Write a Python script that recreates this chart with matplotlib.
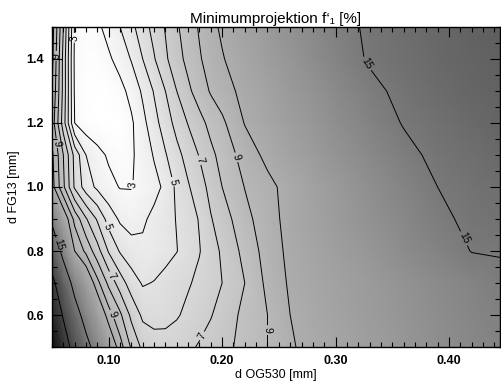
import matplotlib
matplotlib.use("Agg")
import matplotlib.pyplot as plt
from matplotlib.ticker import MultipleLocator, FormatStrFormatter
import numpy as np

plt.rcParams['font.family'] = ['Liberation Sans', 'DejaVu Sans']

# grid: d OG530 (x) and d FG13 (y), values f'1 in %
d_og530 = [0.05, 0.06, 0.07, 0.08, 0.09, 0.10, 0.11, 0.12, 0.13, 0.14, 0.15, 0.16, 0.17,
           0.18, 0.19, 0.20, 0.22, 0.24, 0.26, 0.28, 0.30, 0.33, 0.36, 0.39, 0.42, 0.445]
d_fg13 = [0.5, 0.6, 0.7, 0.8, 0.9, 1.0, 1.1, 1.2, 1.3, 1.4, 1.5]

f_050 = [25.0, 21.7, 18.75, 16.0, 13.65, 11.35, 9.43, 7.86, 6.75, 6.5, 6.4, 6.55, 6.8,
         7.1, 7.4, 7.68, 8.31, 9.0, 9.88, 10.35, 10.8, 11.5, 12.2, 12.9, 13.6, 14.1]
f_060 = [23.0, 19.7, 16.4, 13.75, 11.46, 9.45, 8.2, 6.75, 5.8, 5.6, 5.7, 5.9, 6.24,
         6.58, 6.94, 7.38, 8.27, 9.0, 10.0, 10.5, 11.0, 11.7, 12.4, 13.1, 13.8, 14.3]
f_070 = [21.0, 17.3, 13.9, 11.4, 9.3, 7.75, 6.5, 5.5, 4.9, 5.05, 5.33, 5.63, 5.9,
         6.23, 6.63, 7.0, 8.0, 9.24, 10.15, 10.64, 11.12, 11.84, 12.56, 13.29, 14.0, 14.6]
f_080 = [17.7, 14.0, 10.0, 8.75, 7.4, 5.9, 4.9, 4.4, 4.2, 4.35, 4.65, 4.97, 5.45,
         5.95, 6.58, 7.14, 8.3, 9.43, 10.26, 10.84, 11.43, 12.3, 13.2, 14.03, 15.05, 15.1]
f_090 = [14.4, 10.9, 8.7, 7.1, 5.87, 4.58, 3.85, 3.6, 3.85, 4.24, 4.62, 5.05, 5.55,
         6.07, 6.93, 7.5, 8.68, 9.6, 10.34, 11.0, 11.67, 12.64, 13.62, 14.6, 15.4, 15.7]
f_100 = [10.4, 8.2, 5.85, 4.5, 3.8, 3.3, 2.95, 2.95, 3.33, 3.7, 4.2, 5.24, 5.9,
         6.56, 7.31, 8.0, 9.03, 9.7, 10.4, 11.12, 11.83, 12.9, 13.94, 15.0, 15.6, 16.0]
f_110 = [10.2, 8.0, 5.7, 4.0, 3.35, 2.85, 2.6, 2.85, 3.45, 4.08, 4.92, 5.7, 6.38,
         7.06, 7.76, 8.33, 9.43, 10.28, 11.0, 11.7, 12.42, 13.5, 14.53, 15.4, 16.0, 16.5]
f_120 = [9.6, 6.5, 3.0, 2.4, 2.2, 2.2, 2.35, 2.85, 3.7, 4.64, 5.5, 6.33, 7.05,
         7.67, 8.3, 8.8, 10.05, 10.74, 11.47, 12.2, 12.95, 14.04, 15.1, 15.8, 16.4, 16.9]
f_130 = [10.0, 6.7, 2.85, 2.4, 2.3, 2.4, 2.7, 3.3, 4.17, 5.08, 6.0, 7.0, 7.8,
         8.47, 9.1, 9.52, 10.34, 11.07, 11.85, 12.6, 13.4, 14.5, 15.5, 16.2, 16.8, 17.2]
f_140 = [10.3, 6.7, 2.8, 2.5, 2.5, 2.85, 3.37, 4.07, 5.0, 5.92, 6.83, 7.63, 8.28,
         8.9, 9.43, 9.91, 10.74, 11.51, 12.32, 13.13, 13.94, 15.2, 15.9, 16.5, 17.0, 17.4]
f_150 = [10.5, 7.0, 2.9, 2.6, 2.8, 3.35, 4.0, 4.73, 5.57, 6.33, 7.07, 7.87, 8.5,
         9.1, 9.7, 10.18, 11.0, 11.8, 12.63, 13.45, 14.28, 15.3, 16.0, 16.6, 17.2, 17.6]

levels_plain = [4, 6, 8, 10, 20]
levels_labelled = [3, 5, 7, 9, 15]
label_spots = [(0.073, 1.466), (0.0545, 1.41), (0.124, 1.006), (0.156, 1.016),
               (0.1805, 1.084), (0.214, 1.094), (0.0545, 1.137), (0.100, 0.878),
               (0.0553, 0.819), (0.104, 0.725), (0.1056, 0.606), (0.1805, 0.538),
               (0.238, 0.553), (0.329, 1.388), (0.416, 0.844)]

z = np.array([f_050, f_060, f_070, f_080, f_090, f_100, f_110, f_120, f_130, f_140, f_150])
xx, yy = np.meshgrid(d_og530, d_fg13)

fig = plt.figure(figsize=(5.01, 3.81), dpi=100)
ax = fig.add_axes([52 / 501, 1 - 347 / 381, 448 / 501, 320 / 381])

ax.pcolormesh(xx, yy, z, shading='gouraud', cmap='gray_r', vmin=2.3, vmax=26.5)
ax.contour(xx, yy, z, levels=levels_plain, colors='black', linewidths=0.7)
cs = ax.contour(xx, yy, z, levels=levels_labelled, colors='black', linewidths=0.7)
ax.clabel(cs, fmt='%d', fontsize=7.5, inline=True, inline_spacing=2, manual=label_spots)

ax.set_xlim(0.05, 0.445)
ax.set_ylim(0.5, 1.5)
ax.xaxis.set_major_locator(MultipleLocator(0.1))
ax.xaxis.set_minor_locator(MultipleLocator(0.01))
ax.yaxis.set_major_locator(MultipleLocator(0.2))
ax.yaxis.set_minor_locator(MultipleLocator(0.05))
ax.xaxis.set_major_formatter(FormatStrFormatter('%.2f'))
ax.yaxis.set_major_formatter(FormatStrFormatter('%.1f'))
ax.tick_params(which='both', direction='in', top=True, right=True, width=0.8)
ax.tick_params(which='major', length=7, labelsize=9, pad=6)
ax.tick_params(which='minor', length=3.5)
for lab in ax.get_xticklabels() + ax.get_yticklabels():
    lab.set_fontweight('bold')
for s in ax.spines.values():
    s.set_linewidth(1.0)

ax.set_title("Minimumprojektion f\u2018\u2081 [%]", fontsize=11, pad=3)
ax.set_xlabel("d OG530 [mm]", fontsize=9, labelpad=1)
ax.set_ylabel("d FG13 [mm]", fontsize=9, labelpad=4)

fig.savefig("out.png", dpi=100)
